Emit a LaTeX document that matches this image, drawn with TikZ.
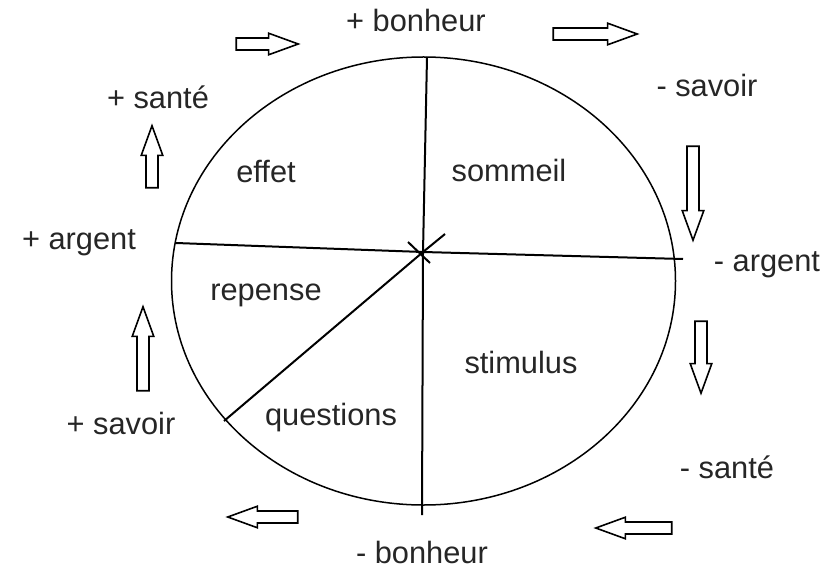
\documentclass[tikz,border=0pt]{standalone}
\usepackage{fontspec}
\setmainfont{Liberation Sans}
\usetikzlibrary{shapes.arrows}

\begin{document}
\begin{tikzpicture}[
    x=0.5pt, y=-0.5pt,
    harrow/.style={single arrow, draw=black, line width=0.8pt, fill=white,
      minimum width=10pt, inner sep=2.6pt, single arrow head extend=2.4pt,
      single arrow tip angle=40},
    ring/.style={line width=0.75pt, black},
    cut/.style={line width=1pt, black},
    txt/.style={font=\fontsize{15.4}{18}\selectfont, text=black!85, inner sep=0pt},
]
\useasboundingbox (0,0) rectangle (834,572);
% circle and its cuts
\coordinate (o) at (423,252);
\draw[ring] (423.5,281) ellipse [x radius=252, y radius=224];
\coordinate (top) at (427,57);
\coordinate (bot) at (422,515);
\coordinate (lft) at (176,243);
\coordinate (rgt) at (683,259);
\coordinate (dia) at (224,421);
\coordinate (diaEnd) at (445,234);
\draw[cut] (top) -- (o) -- (bot);
\draw[cut] (lft) -- (o) -- (rgt);
\draw[cut] (dia) -- (o) -- (diaEnd);
\draw[cut] (408,242) -- (430,263);
% sectors
\node[txt] (effet) at (266,172) {effet};
\node[txt] (sommeil) at (509,170) {sommeil};
\node[txt] (repense) at (266,295) {repense};
\node[txt] (stimulus) at (521,362) {stimulus};
\node[txt] (questions) at (331,418) {questions};
% outer labels
\node[txt] (bonP) at (416,20) {+ bonheur};
\node[txt] (savM) at (707,85) {- savoir};
\node[txt] (argM) at (767,265) {- argent};
\node[txt] (sanM) at (727,467) {- santé};
\node[txt] (bonM) at (422,552) {- bonheur};
\node[txt] (savP) at (121,423) {+ savoir};
\node[txt] (argP) at (79,243) {+ argent};
\node[txt] (sanP) at (158,97) {+ santé};
% hollow arrows
\node[harrow, minimum height=31pt] (a1) at (259,44) {};
\node[harrow, minimum height=42pt] (a2) at (587,34) {};
\node[harrow, minimum height=47pt, rotate=-90] (a3) at (693,185) {};
\node[harrow, minimum height=36pt, rotate=-90] (a4) at (701,349) {};
\node[harrow, minimum height=38pt, rotate=180] (a5) at (642,528) {};
\node[harrow, minimum height=35pt, rotate=180] (a6) at (271,517) {};
\node[harrow, minimum height=42pt, rotate=90] (a7) at (143,357) {};
\node[harrow, minimum height=31pt, rotate=90] (a8) at (152,165) {};
\end{tikzpicture}
\end{document}
